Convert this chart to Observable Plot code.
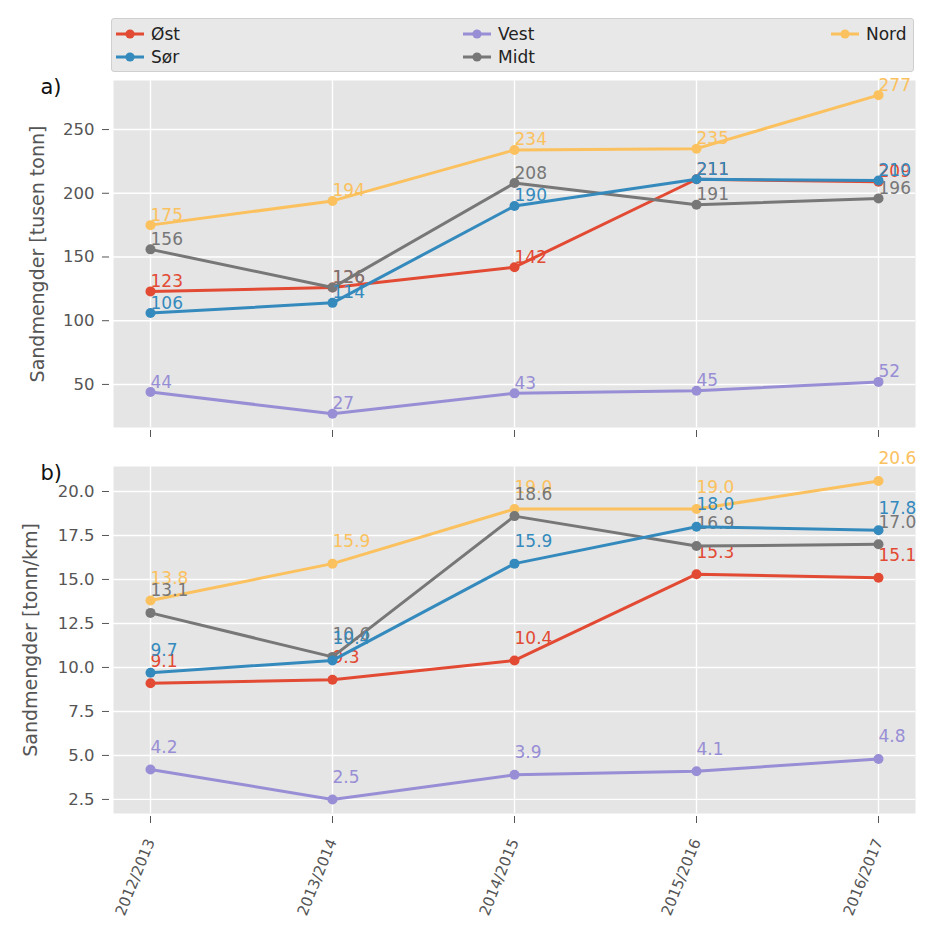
<!DOCTYPE html>
<html>
<head>
<meta charset="utf-8">
<script src="https://cdn.jsdelivr.net/npm/d3@7"></script>
<script src="https://cdn.jsdelivr.net/npm/@observablehq/plot@0.6"></script>
<style>
  body { margin: 0; background: #fff; font-family: "DejaVu Sans", sans-serif; }
  #wrap { position: relative; width: 937px; height: 938px; overflow: hidden; }
  #legend { position: absolute; left: 111px; top: 18px; width: 803px; height: 54px;
            background: #e8e8e8; border: 1px solid #cfcfcf; border-radius: 3px; box-sizing: border-box; }
  .item { position: absolute; display: flex; align-items: center; font-size: 17px; color: #222; height: 22px; }
  .item svg { margin-right: 6px; }
  #plots svg { display: block; }
</style>
</head>
<body>
<div id="wrap">
  <div id="plots"></div>
  <div id="legend"></div>
</div>
<script>
// ---- data ----
const seasons = ["2012/2013", "2013/2014", "2014/2015", "2015/2016", "2016/2017"];
const regions = ["Øst", "Sør", "Vest", "Midt", "Nord"];
const regionColors = ["#E24A33", "#348ABD", "#988ED5", "#777777", "#FBC15E"];

// Panel a: Sandmengder [tusen tonn]
const tonnOst  = [123, 126, 142, 211, 209];
const tonnSor  = [106, 114, 190, 211, 210];
const tonnVest = [44, 27, 43, 45, 52];
const tonnMidt = [156, 126, 208, 191, 196];
const tonnNord = [175, 194, 234, 235, 277];

// Panel b: Sandmengder [tonn/km]
const kmOst  = [9.1, 9.3, 10.4, 15.3, 15.1];
const kmSor  = [9.7, 10.4, 15.9, 18.0, 17.8];
const kmVest = [4.2, 2.5, 3.9, 4.1, 4.8];
const kmMidt = [13.1, 10.6, 18.6, 16.9, 17.0];
const kmNord = [13.8, 15.9, 19.0, 19.0, 20.6];

const ticksA = [50, 100, 150, 200, 250];
const ticksB = [2.5, 5.0, 7.5, 10.0, 12.5, 15.0, 17.5, 20.0];

const drawOrder = ["Nord", "Øst", "Midt", "Sør", "Vest"];

function toRows(arrays) {
  return regions.flatMap((r, i) => arrays[i].map((v, j) => ({season: seasons[j], region: r, value: v})));
}
const rowsA = toRows([tonnOst, tonnSor, tonnVest, tonnMidt, tonnNord]);
const rowsB = toRows([kmOst, kmSor, kmVest, kmMidt, kmNord]);

const font = '"DejaVu Sans", sans-serif';
const tickColor = "#555555";

function panel({rows, ticks, domain, fmt, tickFmt, labelDy, yLabel, yLabelDx, tag, height, marginTop, marginBottom, showX}) {
  const seriesMarks = drawOrder.flatMap(r => {
    const d = rows.filter(o => o.region === r);
    return [
      Plot.line(d, {x: "season", y: "value", stroke: "region", strokeWidth: 3}),
      Plot.dot(d, {x: "season", y: "value", fill: "region", r: 5}),
      Plot.text(d, {x: "season", y: "value", text: o => fmt(o.value), fill: "region",
                    textAnchor: "start", dy: labelDy, fontSize: 17})
    ];
  });
  return Plot.plot({
    width: 937, height, marginTop, marginBottom, marginLeft: 113, marginRight: 22,
    style: {fontFamily: font, fontSize: "16px", color: tickColor, background: "transparent", overflow: "visible"},
    x: {type: "point", domain: seasons, padding: 0.197},
    y: {domain},
    color: {domain: regions, range: regionColors},
    marks: [
      Plot.frame({fill: "#E5E5E5"}),
      Plot.gridX({stroke: "white", strokeOpacity: 1, strokeWidth: 1.4}),
      Plot.gridY(ticks, {stroke: "white", strokeOpacity: 1, strokeWidth: 1.4}),
      Plot.axisY(ticks, {tickSize: 7, dx: -4, tickPadding: 8, label: null, stroke: tickColor, fill: tickColor,
                         tickFormat: tickFmt, fontSize: 16.5}),
      showX
        ? Plot.axisX({tickSize: 7, dy: 3, tickPadding: 16, tickRotate: -68, label: null, stroke: tickColor, fill: tickColor, fontSize: 15})
        : Plot.axisX({tickSize: 7, dy: 3, tickFormat: () => "", label: null, stroke: tickColor}),
      Plot.text([yLabel], {frameAnchor: "left", text: d => d, rotate: -90, dx: yLabelDx, fill: tickColor, fontSize: 19, textAnchor: "middle"}),
      Plot.text([tag], {frameAnchor: "top-left", text: d => d, dx: -73, dy: -1, fill: "#111", fontSize: 21, textAnchor: "start"}),
      ...seriesMarks
    ]
  });
}

const plotA = panel({
  rows: rowsA, ticks: ticksA, domain: [16.2, 288.5], fmt: d3.format("d"), tickFmt: d3.format("d"), labelDy: -10,
  yLabel: "Sandmengder [tusen tonn]", yLabelDx: -76, tag: "a)", height: 440, marginTop: 80, marginBottom: 13, showX: false
});
const plotB = panel({
  rows: rowsB, ticks: ticksB, domain: [1.70, 21.42], fmt: d3.format(".1f"), tickFmt: d3.format(".1f"), labelDy: -22,
  yLabel: "Sandmengder [tonn/km]", yLabelDx: -83, tag: "b)", height: 498, marginTop: 26, marginBottom: 125, showX: true
});
document.getElementById("plots").append(plotA, plotB);

// ---- legend ----
const legendPos = [
  {r: "Øst",  x: 3,   y: 4},
  {r: "Sør",  x: 3,   y: 27},
  {r: "Vest", x: 350, y: 4},
  {r: "Midt", x: 350, y: 27},
  {r: "Nord", x: 718, y: 4}
];
const legend = document.getElementById("legend");
legendPos.forEach(p => {
  const c = regionColors[regions.indexOf(p.r)];
  const el = document.createElement("div");
  el.className = "item";
  el.style.left = p.x + "px";
  el.style.top = p.y + "px";
  el.innerHTML = `<svg width="30" height="12"><line x1="1" x2="29" y1="6" y2="6" stroke="${c}" stroke-width="3"/><circle cx="15" cy="6" r="4.6" fill="${c}"/></svg><span>${p.r}</span>`;
  legend.append(el);
});
</script>
</body>
</html>
